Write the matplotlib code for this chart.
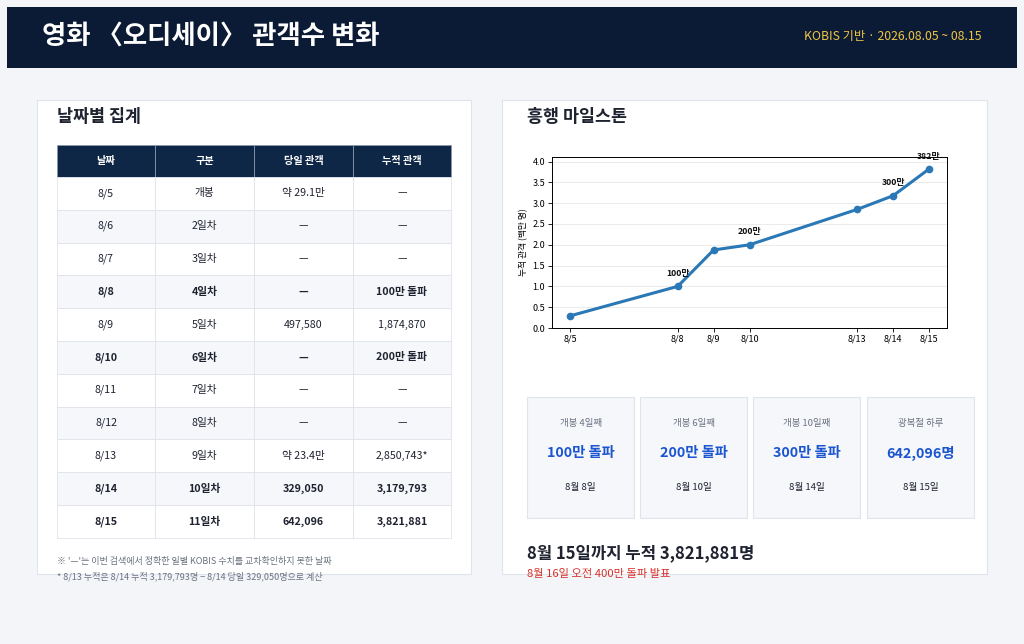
import matplotlib
matplotlib.use("Agg")
import matplotlib.pyplot as plt
from matplotlib.patches import Rectangle

plt.rcParams['font.family'] = ['Noto Sans CJK KR', 'DejaVu Sans']

# ---- data ----
title = "영화 〈오디세이〉 관객수 변화"
subtitle = "KOBIS 기반 · 2026.08.05 ~ 08.15"

table_cols = ["날짜", "구분", "당일 관객", "누적 관객"]
t_dates = ["8/5", "8/6", "8/7", "8/8", "8/9", "8/10", "8/11", "8/12", "8/13", "8/14", "8/15"]
t_kind = ["개봉", "2일차", "3일차", "4일차", "5일차", "6일차", "7일차", "8일차", "9일차", "10일차", "11일차"]
t_daily = ["약 29.1만", "—", "—", "—", "497,580", "—", "—", "—", "약 23.4만", "329,050", "642,096"]
t_cum = ["—", "—", "—", "100만 돌파", "1,874,870", "200만 돌파", "—", "—", "2,850,743*", "3,179,793", "3,821,881"]
t_bold = [False, False, False, True, False, True, False, False, False, True, True]

chart_day = [5, 8, 9, 10, 13, 14, 15]
chart_labels = ["8/5", "8/8", "8/9", "8/10", "8/13", "8/14", "8/15"]
chart_cum = [0.291, 1.0, 1.875, 2.0, 2.851, 3.180, 3.822]  # 백만 명
milestone_day = [8, 10, 14, 15]
milestone_val = [1.0, 2.0, 3.180, 3.822]
milestone_txt = ["100만", "200만", "300만", "382만"]

card_top = ["개봉 4일째", "개봉 6일째", "개봉 10일째", "광복절 하루"]
card_main = ["100만 돌파", "200만 돌파", "300만 돌파", "642,096명"]
card_date = ["8월 8일", "8월 10일", "8월 14일", "8월 15일"]

notes = ["※ '—'는 이번 검색에서 정확한 일별 KOBIS 수치를 교차확인하지 못한 날짜",
         "* 8/13 누적은 8/14 누적 3,179,793명 − 8/14 당일 329,050명으로 계산"]
summary = "8월 15일까지 누적 3,821,881명"
summary_sub = "8월 16일 오전 400만 돌파 발표"

# ---- colors ----
BG = "#f3f5f9"
NAVY = "#0b1b35"
TH = "#0f2747"
LINE = "#dfe3ea"
STRIPE = "#f5f7fb"
TXT = "#1f2330"
BLUE = "#1b55d0"

fig = plt.figure(figsize=(10.24, 6.44), dpi=100)
fig.patch.set_facecolor(BG)
bg = fig.add_axes([0, 0, 1, 1])
bg.set_xlim(0, 1024)
bg.set_ylim(644, 0)
bg.axis("off")

# header
bg.add_patch(Rectangle((7, 7), 1010, 61, facecolor=NAVY, edgecolor="none"))
bg.text(42, 36, title, color="white", fontsize=19, fontweight="bold", va="center")
bg.text(982, 36, subtitle, color="#f0c544", fontsize=8.8, va="center", ha="right")

# panels
for x0, w in [(37, 434), (502, 485)]:
    bg.add_patch(Rectangle((x0, 100), w, 474, facecolor="white", edgecolor=LINE, lw=0.8))
bg.text(57, 117, "날짜별 집계", fontsize=12.5, fontweight="bold", color=TXT, va="center")
bg.text(527, 117, "흥행 마일스톤", fontsize=12.5, fontweight="bold", color=TXT, va="center")

# table
col_x = [57, 155, 254, 353, 451]
head_y, head_h, row_h = 145, 32, 32.8
for i, c in enumerate(table_cols):
    bg.add_patch(Rectangle((col_x[i], head_y), col_x[i + 1] - col_x[i], head_h,
                           facecolor=TH, edgecolor="#8a97ab", lw=0.6))
    bg.text((col_x[i] + col_x[i + 1]) / 2, head_y + head_h / 2, c, color="white",
            fontsize=7.3, fontweight="bold", ha="center", va="center")
rows = list(zip(t_dates, t_kind, t_daily, t_cum))
for r, row in enumerate(rows):
    y0 = head_y + head_h + r * row_h
    fc = STRIPE if r % 2 == 1 else "white"
    for i, val in enumerate(row):
        bg.add_patch(Rectangle((col_x[i], y0), col_x[i + 1] - col_x[i], row_h,
                               facecolor=fc, edgecolor=LINE, lw=0.6))
        bg.text((col_x[i] + col_x[i + 1]) / 2, y0 + row_h / 2, val, color=TXT,
                fontsize=7.7, ha="center", va="center",
                fontweight="bold" if t_bold[r] else "normal")

for k, n in enumerate(notes):
    bg.text(57, 561 + k * 15, n, fontsize=6.5, color="#6b7280", va="center")

# cards
card_x = [527, 640, 753, 867]
for k in range(4):
    cx = card_x[k]
    bg.add_patch(Rectangle((cx, 397), 107, 121, facecolor=STRIPE, edgecolor=LINE, lw=0.8))
    mid = cx + 53.5
    bg.text(mid, 423, card_top[k], fontsize=6.8, color="#6b7280", ha="center", va="center")
    bg.text(mid, 453, card_main[k], fontsize=10.3, color=BLUE, fontweight="bold", ha="center", va="center")
    bg.text(mid, 487, card_date[k], fontsize=6.9, color=TXT, ha="center", va="center")

bg.text(527, 553, summary, fontsize=12, fontweight="bold", color=TXT, va="center")
bg.text(527, 574, summary_sub, fontsize=8.1, color="#d7302a", va="center")

# line chart
ax = fig.add_axes([552 / 1024, 1 - 328 / 644, 395 / 1024, 171 / 644])
ax.plot(chart_day, chart_cum, color="#2a78b5", lw=2.2, marker="o", ms=4.5)
for d, v, s in zip(milestone_day, milestone_val, milestone_txt):
    ax.annotate(s, (d, v), xytext=(0, 6), textcoords="offset points",
                ha="center", va="bottom", fontsize=6.3, fontweight="bold", color="#111")
ax.set_xlim(4.5, 15.5)
ax.set_ylim(0, 4.11)
ax.set_xticks(chart_day)
ax.set_xticklabels(chart_labels)
ax.set_yticks([0, 0.5, 1.0, 1.5, 2.0, 2.5, 3.0, 3.5, 4.0])
ax.tick_params(labelsize=6.5, length=3, width=0.6, pad=2)
ax.grid(axis="y", color="#e8e8e8", lw=0.6)
ax.set_axisbelow(True)
ax.set_ylabel("누적 관객 (백만 명)", fontsize=6.3, labelpad=3)
for sp in ax.spines.values():
    sp.set_linewidth(0.7)

fig.savefig("out.png", dpi=100, facecolor=BG)
